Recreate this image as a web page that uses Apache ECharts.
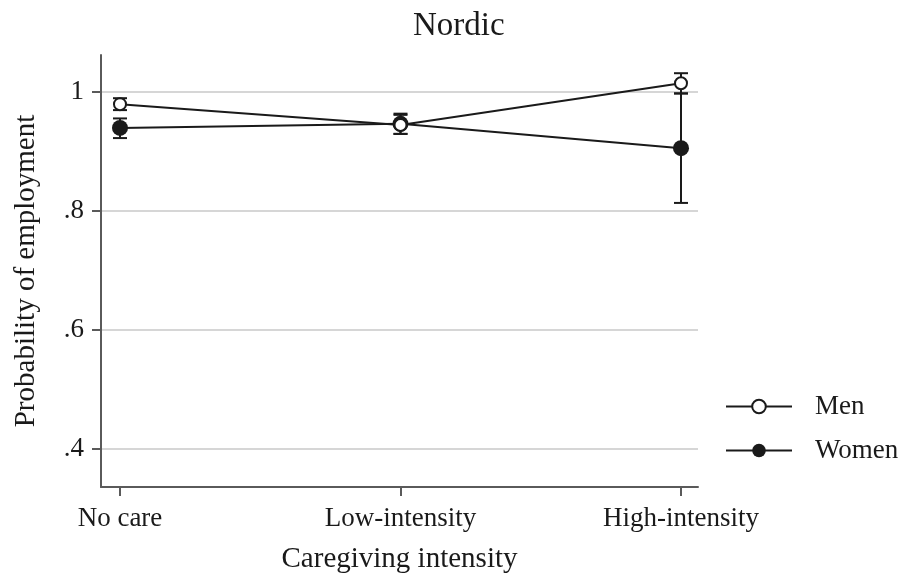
<!DOCTYPE html>
<html>
<head>
<meta charset="utf-8">
<script src="https://cdn.jsdelivr.net/npm/echarts@6/dist/echarts.min.js"></script>
<style>
  html, body { margin: 0; padding: 0; background: #fff; }
  #chart { width: 907px; height: 579px; }
</style>
</head>
<body>
<div id="chart"></div>
<script>
// categories and estimated values (probability of employment)
const categories = ['No care', 'Low-intensity', 'High-intensity'];
const menMean = [0.979, 0.944, 1.014];
const menLow = [0.969, 0.929, 0.997];
const menHigh = [0.989, 0.961, 1.031];
const womenMean = [0.939, 0.946, 0.905];
const womenLow = [0.922, 0.929, 0.813];
const womenHigh = [0.955, 0.963, 0.997];
const yTicks = [0.4, 0.6, 0.8, 1];
const xTicks = [0, 1, 2];

const font = 'Liberation Serif';
const ink = '#1a1a1a';

function pairs(vals) {
  return vals.map((v, i) => [i, v]);
}
function ciData(low, high) {
  return low.map((v, i) => [i, v, high[i]]);
}

// error bar: vertical line + caps
function errorBar(params, api) {
  const lo = api.coord([api.value(0), api.value(1)]);
  const hi = api.coord([api.value(0), api.value(2)]);
  const hw = 7;
  const style = { stroke: ink, lineWidth: 2 };
  return {
    type: 'group',
    children: [
      { type: 'line', shape: { x1: lo[0], y1: lo[1], x2: hi[0], y2: hi[1] }, style: style },
      { type: 'line', shape: { x1: lo[0] - hw, y1: lo[1], x2: lo[0] + hw, y2: lo[1] }, style: style },
      { type: 'line', shape: { x1: hi[0] - hw, y1: hi[1], x2: hi[0] + hw, y2: hi[1] }, style: style }
    ]
  };
}

const chart = echarts.init(document.getElementById('chart'));

const option = {
  animation: false,
  backgroundColor: '#fff',
  title: {
    text: 'Nordic',
    left: 413,
    top: 10,
    padding: 0,
    textStyle: { fontFamily: font, fontSize: 33, fontWeight: 'normal', color: ink }
  },
  legend: {
    data: ['Men', 'Women'],
    orient: 'vertical',
    left: 720,
    top: 388,
    itemWidth: 66,
    itemHeight: 17,
    itemGap: 17,
    textStyle: { fontFamily: font, fontSize: 27, color: ink, padding: [0, 0, 0, 18] }
  },
  grid: { left: 101, right: 209, top: 55, bottom: 91 },
  xAxis: {
    type: 'value',
    min: -0.0677,
    max: 2.0606,
    name: 'Caregiving intensity',
    nameLocation: 'middle',
    nameGap: 58,
    nameTextStyle: { fontFamily: font, fontSize: 29, color: ink },
    axisLine: { show: true, onZero: false, lineStyle: { color: '#5a5a5a', width: 2 } },
    axisTick: { show: true, customValues: xTicks, length: 9, lineStyle: { color: '#5a5a5a', width: 2 } },
    axisLabel: {
      customValues: xTicks,
      margin: 18,
      fontFamily: font, fontSize: 27, color: ink,
      formatter: v => categories[Math.round(v)]
    },
    splitLine: { show: false }
  },
  yAxis: {
    type: 'value',
    min: 0.3356,
    max: 1.0616,
    name: 'Probability of employment',
    nameLocation: 'middle',
    nameGap: 60,
    nameTextStyle: { fontFamily: font, fontSize: 29, color: ink },
    axisLine: { show: true, onZero: false, lineStyle: { color: '#5a5a5a', width: 2 } },
    axisTick: { show: true, customValues: yTicks, length: 9, lineStyle: { color: '#5a5a5a', width: 2 } },
    axisLabel: {
      customValues: yTicks,
      margin: 17,
      fontFamily: font, fontSize: 27, color: ink,
      formatter: v => (v >= 1 ? '1' : v.toFixed(1).replace(/^0/, ''))
    },
    splitLine: { show: true, lineStyle: { color: '#d6d6d6', width: 2 } }
  },
  series: [
    {
      name: 'menCI',
      type: 'custom',
      renderItem: errorBar,
      data: ciData(menLow, menHigh),
      z: 1
    },
    {
      name: 'womenCI',
      type: 'custom',
      renderItem: errorBar,
      data: ciData(womenLow, womenHigh),
      z: 1
    },
    {
      name: 'Men',
      type: 'line',
      data: pairs(menMean),
      symbol: 'circle',
      symbolSize: 12,
      itemStyle: { color: '#fff', borderColor: ink, borderWidth: 2 },
      lineStyle: { color: ink, width: 2 },
      z: 3
    },
    {
      name: 'Women',
      type: 'line',
      data: pairs(womenMean),
      symbol: 'circle',
      symbolSize: 16,
      itemStyle: { color: ink, borderColor: ink, borderWidth: 0 },
      lineStyle: { color: ink, width: 2 },
      z: 2
    }
  ]
};

chart.setOption(option);
</script>
</body>
</html>
